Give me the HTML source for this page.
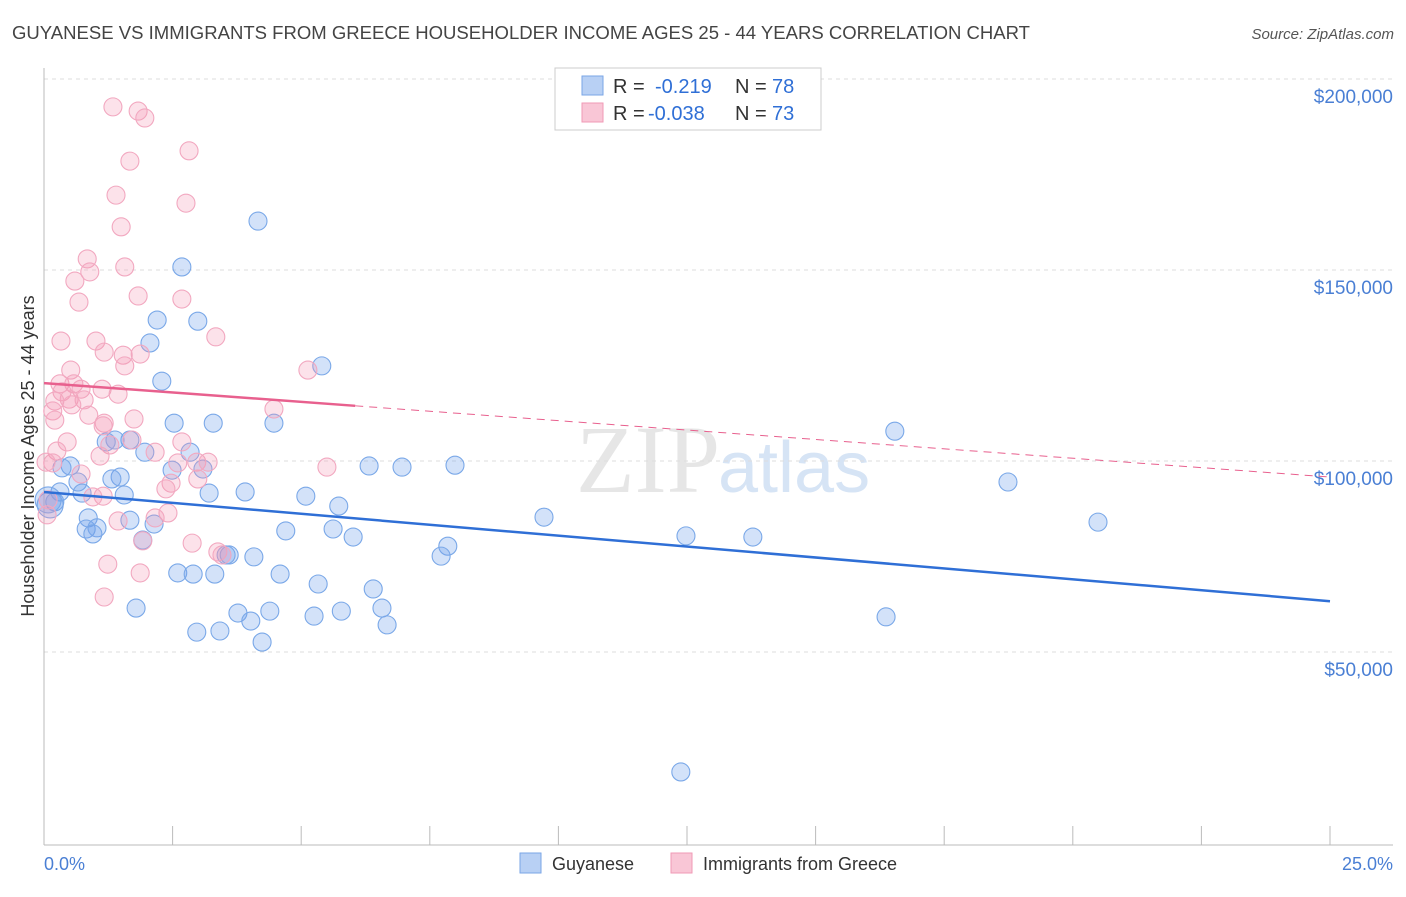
<!DOCTYPE html>
<html><head><meta charset="utf-8"><style>
body{margin:0;background:#fff;font-family:"Liberation Sans",sans-serif}
</style></head><body>
<svg width="1406" height="892" viewBox="0 0 1406 892">
<text x="12" y="39" font-size="18" fill="#444" textLength="1018" lengthAdjust="spacingAndGlyphs">GUYANESE VS IMMIGRANTS FROM GREECE HOUSEHOLDER INCOME AGES 25 - 44 YEARS CORRELATION CHART</text>
<text x="1394" y="39" font-size="15" fill="#555" font-style="italic" text-anchor="end">Source: ZipAtlas.com</text>
<text x="720" y="492" font-size="96" fill="#e6e6e6" text-anchor="end" font-family="Liberation Serif">ZIP</text>
<text x="718" y="492" font-size="72" fill="#d6e4f5">atlas</text>
<g id="grid"></g>
<line x1="44" y1="68" x2="44" y2="845" stroke="#bbb"/>
<line x1="44" y1="845" x2="1393" y2="845" stroke="#bbb"/>
<g id="xticks"></g>
<text transform="translate(34,456) rotate(-90)" font-size="18" fill="#333" text-anchor="middle">Householder Income Ages 25 - 44 years</text>
<text x="44" y="870" font-size="18" fill="#4a7fd4">0.0%</text>
<text x="1393" y="870" font-size="18" fill="#4a7fd4" text-anchor="end">25.0%</text>
<g id="pts"></g>
<g id="trends"></g>
<g>
<rect x="555" y="68" width="266" height="62" fill="#fff" stroke="#ccc"/>
<rect x="582" y="76" width="21" height="19" fill="#b8d0f4" stroke="#7aa6e6"/>
<rect x="582" y="103" width="21" height="19" fill="#f9c6d6" stroke="#f09ab6"/>
<text x="613" y="93" font-size="20" fill="#333">R = <tspan x="655" fill="#2f6fd6">-0.219</tspan><tspan x="735">N = </tspan><tspan x="772" fill="#2f6fd6">78</tspan></text>
<text x="613" y="120" font-size="20" fill="#333">R = <tspan x="648" fill="#2f6fd6">-0.038</tspan><tspan x="735">N = </tspan><tspan x="772" fill="#2f6fd6">73</tspan></text>
</g>
<g>
<rect x="520" y="853" width="21" height="20" fill="#b8d0f4" stroke="#7aa6e6"/>
<text x="552" y="870" font-size="18" fill="#333">Guyanese</text>
<rect x="671" y="853" width="21" height="20" fill="#f9c6d6" stroke="#f09ab6"/>
<text x="703" y="870" font-size="18" fill="#333">Immigrants from Greece</text>
</g>
</svg>
<script>
const yTicks=[200000,150000,100000,50000];
const yTickLabels=["$200,000","$150,000","$100,000","$50,000"];
const blueX=[4.16,2.68,2.99,2.20,2.06,5.40,2.29,2.53,3.29,4.47,16.54,1.67,1.38,1.21,1.96,2.84,0.51,0.35,1.48,1.32,2.49,3.09,6.32,6.96,7.99,18.74,0.66,0.31,0.74,1.56,3.21,3.91,5.09,5.73,0.21,0.86,9.72,20.49,2.14,1.67,0.82,1.03,4.70,5.62,6.01,0.95,1.92,12.48,13.78,7.85,7.72,3.60,3.54,4.08,2.60,2.90,3.32,4.59,5.33,6.40,1.79,3.77,4.39,5.78,6.57,5.25,4.02,16.37,6.67,2.97,3.42,4.24,12.38,0.12,0.08];
const blueY=[162.8,150.8,136.6,136.9,130.9,124.9,120.9,109.9,109.9,109.9,107.8,105.5,105.5,105.0,102.3,102.3,98.7,98.2,95.8,95.3,97.6,97.9,98.7,98.4,98.9,94.5,94.5,91.9,91.6,91.1,91.6,91.9,90.8,88.2,89.3,85.1,85.3,84.0,83.5,84.5,82.2,82.5,81.7,82.2,80.1,80.9,79.3,80.4,80.1,77.7,75.1,75.4,75.4,74.9,70.7,70.4,70.4,70.4,67.8,66.5,61.5,60.2,60.7,60.7,61.5,59.4,58.1,59.2,57.1,55.2,55.5,52.6,18.6,88.5,89.8];
const pinkX=[1.34,1.83,1.96,2.82,1.67,1.40,2.76,1.50,0.84,1.57,0.89,0.60,1.83,2.68,0.68,0.33,1.01,3.34,1.17,1.87,1.54,1.57,5.13,0.52,0.31,0.58,1.13,0.35,1.44,0.72,0.49,0.78,0.21,0.54,4.47,0.87,1.75,0.17,1.17,1.15,0.21,1.28,0.45,2.68,0.25,1.71,1.09,2.16,2.97,3.19,2.60,5.50,0.17,0.72,2.99,2.47,2.37,1.15,0.95,2.41,2.16,1.44,1.92,2.88,3.38,3.46,1.24,1.87,1.17,0.04,0.08,0.06];
const pinkY=[192.7,191.6,189.8,181.2,178.5,169.6,167.5,161.3,152.9,150.8,149.5,147.1,143.2,142.4,141.6,131.4,131.4,132.5,128.5,128.0,127.7,124.9,123.8,123.8,120.2,120.2,118.8,118.1,117.5,118.8,116.2,116.0,115.7,114.7,113.6,112.0,111.0,113.1,109.9,109.2,110.7,104.2,105.0,105.0,102.6,105.5,101.3,102.3,99.7,99.7,99.5,98.4,99.5,96.6,95.3,94.2,92.7,90.8,90.6,86.4,85.1,84.3,79.1,78.5,76.2,75.4,73.0,70.7,64.4,99.7,89.8,85.9];
const blueTrend=[91.9,63.3];
const pinkTrend=[120.4,95.8];
const pinkSolidEnd=6.05;
const NS="http://www.w3.org/2000/svg";
const xs=p=>44+p*51.44;
const ys=v=>79+(200000-v)/50000*191;
const yk=v=>ys(v*1000);
function mk(t,a,parent){const e=document.createElementNS(NS,t);for(const k in a)e.setAttribute(k,a[k]);parent.appendChild(e);return e;}
const grid=document.getElementById('grid');
yTicks.forEach((v,i)=>{
 const l=mk('line',{x1:44,x2:1393,y1:ys(v),y2:ys(v),stroke:'#ddd','stroke-dasharray':'4,4'},grid);
 
 
 const t=mk('text',{x:1393,y:ys(v)+24,'font-size':19,fill:'#4a7fd4','text-anchor':'end'},grid);
 t.textContent=yTickLabels[i];
 
 
});
const xt=document.getElementById('xticks');
for(let i=1;i<=10;i++){const l=mk('line',{x1:xs(i*2.5),x2:xs(i*2.5),y1:826,y2:845,stroke:'#bbb'},xt);
 
 }
const pts=document.getElementById('pts');
blueX.forEach((x,i)=>{const c=mk('circle',{cx:xs(x),cy:yk(blueY[i]),r:(x<0.15?13:9),fill:'rgba(110,160,235,0.3)',stroke:'#7aa8e8','stroke-width':1.1},pts);
 
 });
pinkX.forEach((x,i)=>{const c=mk('circle',{cx:xs(x),cy:yk(pinkY[i]),r:9,fill:'rgba(245,150,180,0.28)',stroke:'#f2a8c0','stroke-width':1.1},pts);
 
 });
const tr=document.getElementById('trends');
const bl=mk('line',{x1:xs(0),y1:yk(blueTrend[0]),x2:xs(25),y2:yk(blueTrend[1]),stroke:'#2f6fd6','stroke-width':2.5},tr);


const pm=pinkTrend[0]+(pinkTrend[1]-pinkTrend[0])*pinkSolidEnd/25;
const pl=mk('line',{x1:xs(0),y1:yk(pinkTrend[0]),x2:xs(pinkSolidEnd),y2:yk(pm),stroke:'#e8608e','stroke-width':2.5},tr);


const pd=mk('line',{x1:xs(pinkSolidEnd),y1:yk(pm),x2:xs(25),y2:yk(pinkTrend[1]),stroke:'#e8608e','stroke-width':1,'stroke-dasharray':'8,6'},tr);


</script>
</body></html>
